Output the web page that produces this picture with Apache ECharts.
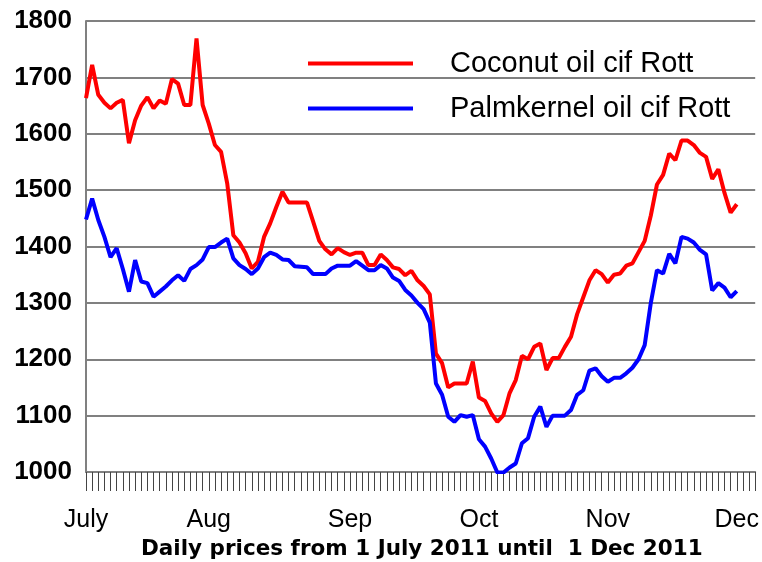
<!DOCTYPE html>
<html>
<head>
<meta charset="utf-8">
<script src="https://cdn.jsdelivr.net/npm/echarts@6/dist/echarts.min.js"></script>
<style>
  html, body { margin: 0; padding: 0; background: #fff; }
  #chart { width: 762px; height: 562px; }
</style>
</head>
<body>
<div id="chart"></div>
<script>
// trading days 1 Jul 2011 .. 1 Dec 2011
const days = [];
for (let d = new Date(2011, 6, 1); d <= new Date(2011, 11, 1); d.setDate(d.getDate() + 1)) {
  if (d.getDay() !== 0 && d.getDay() !== 6) days.push((d.getMonth() + 1) + '/' + d.getDate());
}

const monthLabels = ['July', 'Aug', 'Sep', 'Oct', 'Nov', 'Dec'];
const monthIdx = [0, 20, 43, 64, 85, 106];

const coconut = [
  1663, 1722, 1669, 1655, 1645, 1655, 1660, 1583, 1624, 1650,
  1665, 1645, 1659, 1653, 1697, 1689, 1651, 1651, 1769, 1651,
  1618, 1580, 1568, 1512, 1420, 1407, 1388, 1361, 1373, 1417,
  1441, 1470, 1497, 1478, 1478, 1478, 1478, 1444, 1410, 1395,
  1386, 1397, 1390, 1385, 1389, 1389, 1367, 1367, 1386, 1376,
  1363, 1360, 1349, 1357, 1340, 1330, 1315, 1210, 1193, 1150,
  1157, 1157, 1157, 1196, 1132, 1126, 1104, 1089, 1101, 1140,
  1163, 1206, 1200, 1222, 1228, 1181, 1202, 1202, 1222, 1240,
  1280, 1310, 1340, 1358, 1351, 1336, 1350, 1352, 1366, 1370,
  1390, 1410, 1455, 1510, 1527, 1565, 1553, 1588, 1588, 1580,
  1566, 1559, 1520, 1537, 1495, 1460, 1475
];

const palmkernel = [
  1448, 1485, 1447, 1417, 1381, 1397, 1360, 1320, 1376, 1338,
  1335, 1311, 1320, 1329, 1340, 1349, 1339, 1360, 1367, 1377,
  1399, 1399, 1407, 1414, 1379, 1367, 1360, 1351, 1361, 1381,
  1389, 1385, 1377, 1376, 1365, 1364, 1363, 1351, 1351, 1351,
  1361, 1366, 1366, 1366, 1374, 1366, 1358, 1358, 1367, 1361,
  1345, 1339, 1323, 1313, 1300, 1289, 1265, 1157, 1137, 1098,
  1089, 1101, 1098, 1101, 1058, 1045, 1024, 999, 999, 1008,
  1015, 1051, 1060, 1098, 1116, 1080, 1100, 1100, 1100, 1110,
  1137, 1145, 1180, 1184, 1170, 1160, 1167, 1167, 1175, 1185,
  1200, 1225, 1300, 1358, 1352, 1387, 1370, 1417, 1414, 1407,
  1394, 1386, 1322, 1335, 1327, 1310, 1321
];

const chart = echarts.init(document.getElementById('chart'));
chart.setOption({
  animation: false,
  title: {
    text: 'Daily prices from 1 July 2011 until  1 Dec 2011',
    left: 136,
    top: 533,
    textStyle: { fontFamily: 'DejaVu Sans', fontWeight: 'bold', fontSize: 21.5, color: '#000' }
  },
  legend: {
    orient: 'vertical',
    left: 303,
    top: 44,
    itemWidth: 105,
    itemHeight: 4,
    itemGap: 16,
    icon: 'rect',
    textStyle: { fontFamily: 'Liberation Sans', fontSize: 29, color: '#000', padding: [0, 0, 0, 32] },
    data: ['Coconut oil cif Rott', 'Palmkernel oil cif Rott']
  },
  grid: { left: 86, right: 4, top: 21, bottom: 90 },
  xAxis: {
    type: 'category',
    data: days,
    boundaryGap: false,
    axisLine: { lineStyle: { color: '#808080', width: 2 } },
    axisTick: { interval: 0, length: 19, lineStyle: { color: '#444', width: 1 } },
    axisLabel: {
      interval: (i) => monthIdx.includes(i),
      formatter: (v, i) => monthLabels[monthIdx.indexOf(i)],
      margin: 36,
      fontFamily: 'Liberation Sans',
      fontSize: 25,
      color: '#000'
    },
    splitLine: { show: false }
  },
  yAxis: {
    type: 'value',
    min: 1000,
    max: 1800,
    interval: 100,
    axisLine: { show: true, lineStyle: { color: '#808080', width: 2 } },
    axisTick: { show: false },
    axisLabel: {
      margin: 14,
      formatter: (v) => String(v),
      fontFamily: 'Liberation Sans',
      fontWeight: 'bold',
      fontSize: 26,
      color: '#000'
    },
    splitLine: { lineStyle: { color: '#808080', width: 2 } }
  },
  series: [
    {
      name: 'Coconut oil cif Rott',
      type: 'line',
      data: coconut,
      showSymbol: false,
      color: '#ff0000',
      lineStyle: { width: 4, color: '#ff0000' }
    },
    {
      name: 'Palmkernel oil cif Rott',
      type: 'line',
      data: palmkernel,
      showSymbol: false,
      color: '#0000ff',
      lineStyle: { width: 4, color: '#0000ff' }
    }
  ]
});
</script>
</body>
</html>
